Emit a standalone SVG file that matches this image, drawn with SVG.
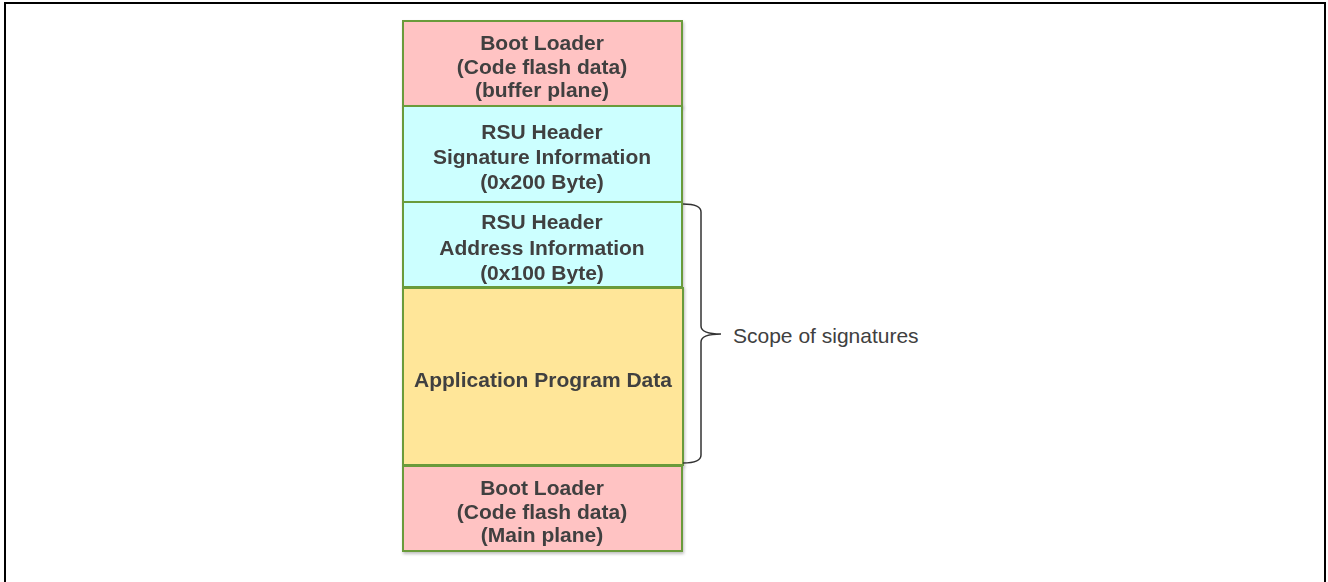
<svg xmlns="http://www.w3.org/2000/svg" width="1328" height="582" viewBox="0 0 1328 582">
<style>
.box{stroke:#6b9b3a;stroke-width:2}
.pink{fill:#ffc3c3}
.cyan{fill:#ccffff}
.yellow{fill:#ffe699}
.t{font-family:"Liberation Sans",Arial,sans-serif;font-weight:bold;font-size:21px;fill:#404040;text-anchor:middle}
.lbl{font-family:"Liberation Sans",Arial,sans-serif;font-size:21px;fill:#404040}
</style>
<defs>
<filter id="sh" x="-5%" y="-5%" width="110%" height="115%">
<feDropShadow dx="1" dy="2" stdDeviation="1.5" flood-color="#000" flood-opacity="0.25"/>
</filter>
</defs>
<rect x="5" y="3" width="1320" height="600" fill="#fff" stroke="#000" stroke-width="2"/>
<g id="bootloader-buffer" filter="url(#sh)">
<rect class="box pink" x="403" y="21" width="279" height="85"/>
<text class="t" x="542" y="50">Boot Loader</text>
<text class="t" x="542" y="74">(Code flash data)</text>
<text class="t" x="542" y="97">(buffer plane)</text>
</g>
<g id="rsu-signature" filter="url(#sh)">
<rect class="box cyan" x="403" y="106" width="279" height="96"/>
<text class="t" x="542" y="139">RSU Header</text>
<text class="t" x="542" y="164">Signature Information</text>
<text class="t" x="542" y="189">(0x200 Byte)</text>
</g>
<g id="rsu-address" filter="url(#sh)">
<rect class="box cyan" x="403" y="202" width="279" height="85"/>
<text class="t" x="542" y="229">RSU Header</text>
<text class="t" x="542" y="255">Address Information</text>
<text class="t" x="542" y="280">(0x100 Byte)</text>
</g>
<g id="app-data" filter="url(#sh)">
<rect class="box yellow" x="403" y="288" width="280" height="177"/>
<text class="t" x="543" y="387">Application Program Data</text>
</g>
<g id="bootloader-main" filter="url(#sh)">
<rect class="box pink" x="403" y="466" width="279" height="85"/>
<text class="t" x="542" y="495">Boot Loader</text>
<text class="t" x="542" y="519">(Code flash data)</text>
<text class="t" x="542" y="542">(Main plane)</text>
</g>
<g id="connectors">
<path d="M683,204 Q701,204 701,212 L701,326 Q701,334 721,334 Q701,334 701,342 L701,455 Q701,463 683,463" fill="none" stroke="#333" stroke-width="1.5"/>
</g>
<g id="scope-label">
<text class="lbl" x="733" y="343">Scope of signatures</text>
</g>
</svg>
